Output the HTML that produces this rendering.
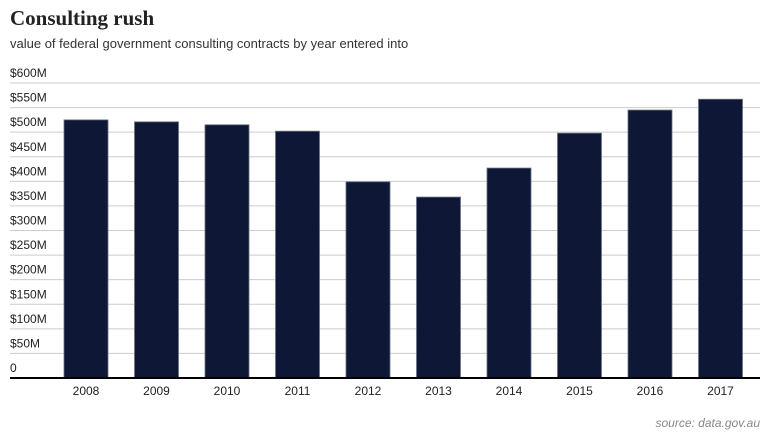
<!DOCTYPE html>
<html><head><meta charset="utf-8"><style>
body{margin:0;width:774px;height:440px;background:#fff;overflow:hidden;font-family:"Liberation Sans",sans-serif}
</style></head><body>
<svg width="774" height="440">
<text x="10" y="25" font-family="Liberation Serif,serif" font-weight="bold" font-size="21" fill="#222">Consulting rush</text>
<text x="10" y="48" font-size="13" fill="#333">value of federal government consulting contracts by year entered into</text>
<g id="grid"></g><g id="bars"></g><g id="xlabels"></g>
<line x1="10" x2="760" y1="378" y2="378" stroke="#000" stroke-width="2"/>
<text x="760" y="427" text-anchor="end" font-style="italic" font-size="12" fill="#888">source: data.gov.au</text>
</svg>
<script>
const years=["2008","2009","2010","2011","2012","2013","2014","2015","2016","2017"];
const values=[525,521,515,502,399,368,427,498,545,567];
const ticks=[0,50,100,150,200,250,300,350,400,450,500,550,600];
const tickLabels=["0","$50M","$100M","$150M","$200M","$250M","$300M","$350M","$400M","$450M","$500M","$550M","$600M"];
const NS="http://www.w3.org/2000/svg";
const y=v=>378-v*(295/600);
const x=i=>86+i*70.5;
const mk=(t,a)=>{const e=document.createElementNS(NS,t);for(const k in a)e.setAttribute(k,a[k]);return e;};
const g=document.getElementById('grid');
ticks.forEach((t,i)=>{
 if(t>0){const l=mk('line',{x1:10,x2:760,y1:y(t),y2:y(t),stroke:'#ccc','stroke-width':1});
 
 
 g.appendChild(l);}
 const tx=mk('text',{x:10,y:y(t)-6,'font-size':12,fill:'#222'});
 tx.textContent=tickLabels[i];
 
 
 g.appendChild(tx);
});
const b=document.getElementById('bars'),xl=document.getElementById('xlabels');
years.forEach((yr,i)=>{
 const r=mk('rect',{x:x(i)-22,y:y(values[i]),width:44,height:378-y(values[i]),fill:'#0e1836',stroke:'#6b7284','stroke-width':0.8});
 
 
 b.appendChild(r);
 const t=mk('text',{x:x(i),y:395,'text-anchor':'middle','font-size':12,fill:'#222'});
 t.textContent=yr;
 
 
 xl.appendChild(t);
});
</script>
</body></html>
